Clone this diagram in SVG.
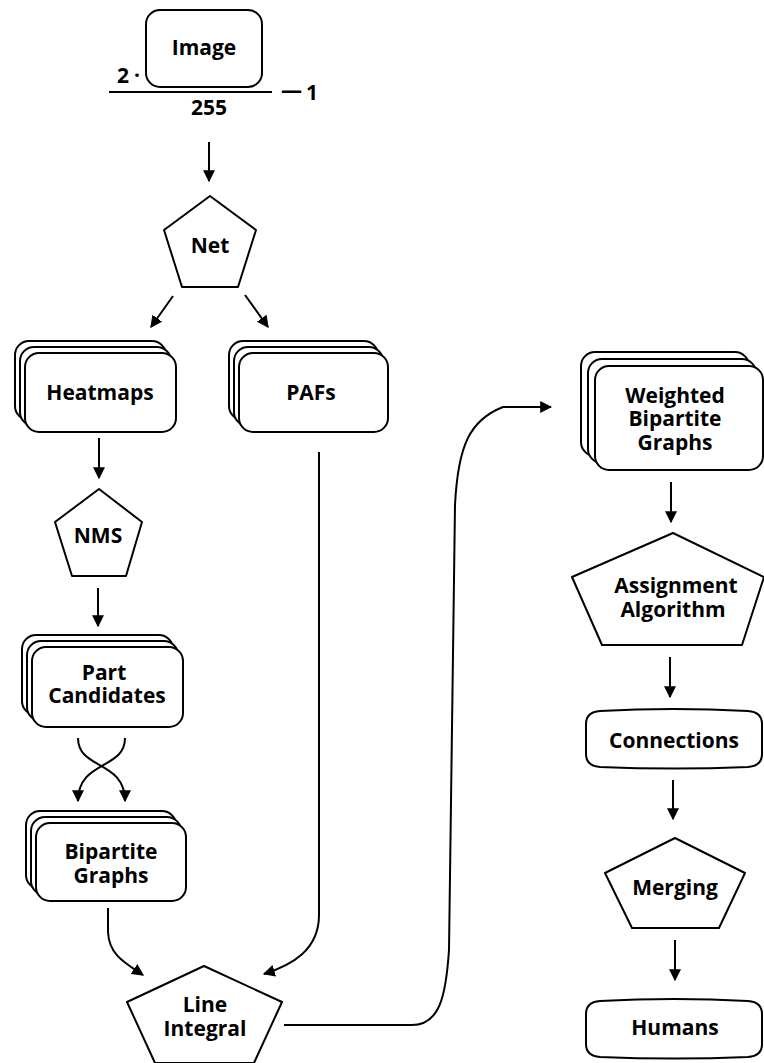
<svg xmlns="http://www.w3.org/2000/svg" width="764" height="1063" viewBox="0 0 764 1063">
  <style>
    .shape { fill: #fff; stroke: #000; stroke-width: 2; stroke-linejoin: round; }
    .label { font-family: "Open Sans", "DejaVu Sans", sans-serif; font-weight: bold; font-size: 21px; fill: #000; text-anchor: middle; }
    .math { font-family: "Open Sans", "DejaVu Sans", sans-serif; font-weight: bold; font-size: 21px; fill: #000; }
    .edge { fill: none; stroke: #000; stroke-width: 2; }
  </style>
  <defs>
    <marker id="arrow" viewBox="0 0 10 10" refX="9" refY="5" markerWidth="12" markerHeight="12" markerUnits="userSpaceOnUse" orient="auto">
      <path d="M0,0 L10,5 L0,10 z" fill="#000"/>
    </marker>
  </defs>

  <rect width="764" height="1063" fill="#fff"/>

  <!-- normalisation formula around the input: (2·Image / 255) − 1 -->
  <g id="image">
    <rect class="shape" x="146" y="10" width="116" height="77" rx="14"/>
    <text class="label" x="204" y="55">Image</text>
    <text class="math" x="117" y="83">2</text>
    <text class="math" x="134" y="83">·</text>
    <line x1="109" y1="92" x2="272" y2="92" stroke="#000" stroke-width="2"/>
    <text class="math" x="209" y="115" text-anchor="middle">255</text>
    <text class="math" x="281" y="98" font-size="16">—</text>
    <text class="math" x="306" y="100">1</text>
  </g>

  <g id="net">
    <polygon class="shape" points="210,196 256,230 238,287 182,287 164,230"/>
    <text class="label" x="210" y="253">Net</text>
  </g>

  <g id="heatmaps">
    <rect class="shape" x="15" y="341" width="151" height="79" rx="14"/>
    <rect class="shape" x="20" y="347" width="151" height="79" rx="14"/>
    <rect class="shape" x="25" y="353" width="151" height="79" rx="14"/>
    <text class="label" x="100" y="400">Heatmaps</text>
  </g>

  <g id="pafs">
    <rect class="shape" x="229" y="341" width="149" height="79" rx="14"/>
    <rect class="shape" x="234" y="347" width="149" height="79" rx="14"/>
    <rect class="shape" x="239" y="353" width="149" height="79" rx="14"/>
    <text class="label" x="311" y="400">PAFs</text>
  </g>

  <g id="nms">
    <polygon class="shape" points="99,489 142,522 126,576 72,576 55,522"/>
    <text class="label" x="98" y="543">NMS</text>
  </g>

  <g id="part-candidates">
    <rect class="shape" x="22" y="635" width="151" height="80" rx="14"/>
    <rect class="shape" x="27" y="641" width="151" height="80" rx="14"/>
    <rect class="shape" x="32" y="647" width="151" height="80" rx="14"/>
    <text class="label" x="104" y="680">Part</text>
    <text class="label" x="107" y="703">Candidates</text>
  </g>

  <g id="bipartite-graphs">
    <rect class="shape" x="26" y="811" width="150" height="78" rx="14"/>
    <rect class="shape" x="31" y="817" width="150" height="78" rx="14"/>
    <rect class="shape" x="36" y="823" width="150" height="78" rx="14"/>
    <text class="label" x="111" y="859">Bipartite</text>
    <text class="label" x="111" y="883">Graphs</text>
  </g>

  <g id="line-integral">
    <polygon class="shape" points="204,966 282,1002 254,1063 155,1063 127,1002"/>
    <text class="label" x="205" y="1012">Line</text>
    <text class="label" x="205" y="1036">Integral</text>
  </g>

  <g id="weighted-bipartite-graphs">
    <rect class="shape" x="581" y="352" width="168" height="104" rx="14"/>
    <rect class="shape" x="588" y="359" width="168" height="104" rx="14"/>
    <rect class="shape" x="595" y="366" width="168" height="104" rx="14"/>
    <text class="label" x="675" y="403">Weighted</text>
    <text class="label" x="675" y="426">Bipartite</text>
    <text class="label" x="675" y="450">Graphs</text>
  </g>

  <g id="assignment-algorithm">
    <polygon class="shape" points="673,533 764,577 742,645 602,645 572,577"/>
    <text class="label" x="676" y="593">Assignment</text>
    <text class="label" x="673" y="617">Algorithm</text>
  </g>

  <g id="connections">
    <path class="shape" d="M600,711 Q673,707 748,711 Q762,712 762,724 L762,754 Q762,766 748,767 Q673,770 600,767 Q586,766 586,754 L586,724 Q586,712 600,711 z"/>
    <text class="label" x="674" y="748">Connections</text>
  </g>

  <g id="merging">
    <polygon class="shape" points="675,838 745,873 719,928 632,928 605,873"/>
    <text class="label" x="675" y="895">Merging</text>
  </g>

  <g id="humans">
    <path class="shape" d="M600,1001 Q674,997 748,1001 Q762,1002 762,1014 L762,1044 Q762,1056 748,1057 Q674,1060 600,1057 Q586,1056 586,1044 L586,1014 Q586,1002 600,1001 z"/>
    <text class="label" x="675" y="1035">Humans</text>
  </g>

  <g id="connectors">
    <line class="edge" x1="209" y1="142" x2="209" y2="181" marker-end="url(#arrow)"/>
    <line class="edge" x1="173" y1="296" x2="151" y2="327" marker-end="url(#arrow)"/>
    <line class="edge" x1="245" y1="295" x2="268" y2="327" marker-end="url(#arrow)"/>
    <line class="edge" x1="99" y1="438" x2="99" y2="478" marker-end="url(#arrow)"/>
    <line class="edge" x1="98" y1="588" x2="98" y2="626" marker-end="url(#arrow)"/>
    <path class="edge" d="M78,738 C78,770 125,760 125,801" marker-end="url(#arrow)"/>
    <path class="edge" d="M125,738 C125,770 78,760 78,801" marker-end="url(#arrow)"/>
    <path class="edge" d="M108,908 L108,932 C109,955 125,963 143,975" marker-end="url(#arrow)"/>
    <path class="edge" d="M319,452 L319,915 C319,950 292,965 264,974" marker-end="url(#arrow)"/>
    <path class="edge" d="M284,1025 L412,1025 C440,1025 446,995 449,950 L455,505 C458,445 470,420 503,407 L551,407" marker-end="url(#arrow)"/>
    <line class="edge" x1="671" y1="482" x2="671" y2="522" marker-end="url(#arrow)"/>
    <line class="edge" x1="670" y1="657" x2="670" y2="697" marker-end="url(#arrow)"/>
    <line class="edge" x1="673" y1="780" x2="673" y2="819" marker-end="url(#arrow)"/>
    <line class="edge" x1="675" y1="940" x2="675" y2="980" marker-end="url(#arrow)"/>
  </g>
</svg>
